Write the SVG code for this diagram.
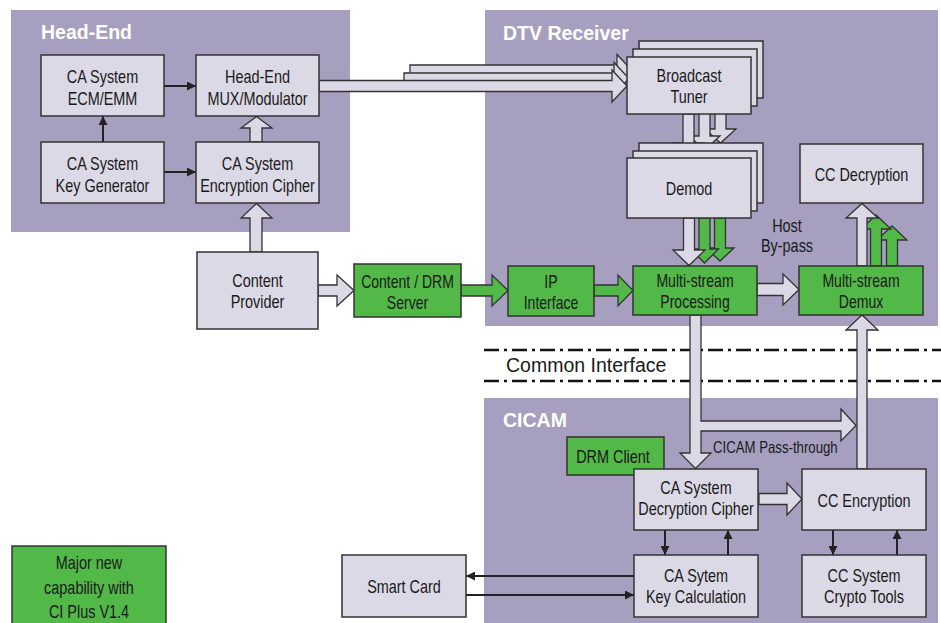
<svg xmlns="http://www.w3.org/2000/svg" width="941" height="623" viewBox="0 0 941 623">
<defs>
<style>
.panel{fill:#A69FBF}
.node{fill:#DCD9E7;stroke:#333;stroke-width:1.5}
.green{fill:#52B848;stroke:#333;stroke-width:1.5}
.blk{fill:#DCD9E7;stroke:#333;stroke-width:1.3}
.gblk{fill:#52B848;stroke:#333;stroke-width:1.3}
.thin{stroke:#222;stroke-width:2;fill:none;marker-end:url(#ah)}
.t{font-family:"Liberation Sans",Arial,sans-serif;font-size:18.5px;fill:#1a1a1a;text-anchor:middle}
.s{font-size:18px}
.title{font-family:"Liberation Sans",Arial,sans-serif;font-weight:bold;font-size:19.5px;fill:#fff}
.ci{font-family:"Liberation Sans",Arial,sans-serif;font-size:19.5px;fill:#1a1a1a}
.dd{stroke:#111;stroke-width:2.5;stroke-dasharray:15 5 3 5;fill:none}
</style>
<marker id="ah" viewBox="0 0 10 10" refX="10" refY="5" markerWidth="9" markerHeight="9" markerUnits="userSpaceOnUse" orient="auto">
<path d="M0,0 L10,5 L0,10 z" fill="#222"/>
</marker>
</defs>
<rect width="941" height="623" fill="#fff"/>
<rect class="panel" x="11" y="10" width="339" height="222"/>
<rect class="panel" x="485" y="10" width="453" height="316"/>
<rect class="panel" x="484" y="398" width="454" height="225"/>
<text class="title" x="41" y="39">Head-End</text>
<text class="title" x="503" y="40">DTV Receiver</text>
<text class="title" x="503" y="427">CICAM</text>
<path class="dd" d="M484,350 H941"/>
<path class="dd" d="M484,381 H941"/>
<text class="ci" x="506" y="372">Common Interface</text>

<g id="connectors">
<polygon class="blk" points="410,65 617,65 617,54.5 632,70.5 617,86.5 617,76 410,76"/>
<polygon class="blk" points="404,73 614,73 614,62.5 629,78.5 614,94.5 614,84 404,84"/>
<polygon class="blk" points="319,80.5 612,80.5 612,70 627,86 612,102 612,91.5 319,91.5"/>
<polygon class="blk" points="250,142 250,128 241,128 256.5,116.5 272,128 262,128 262,142"/>
<polygon class="blk" points="250,252 250,218 241,218 256.5,203.5 272,218 262,218 262,252"/>
<polygon class="blk" points="318,285 337,285 337,275 354,290.5 337,306 337,296 318,296"/>
<polygon class="gblk" points="461,285 492,285 492,275 508,290.5 492,306 492,296 461,296"/>
<polygon class="gblk" points="594,285 618,285 618,275 633,290.5 618,306 618,296 594,296"/>
<polygon class="blk" points="757,283.5 783,283.5 783,274 799,289.5 783,305 783,295.5 757,295.5"/>
<polygon class="blk" points="715,98 726,98 726,129 736,129 720.5,143 705,129 715,129"/>
<polygon class="blk" points="699,106 710,106 710,136 720,136 704.5,150 689,136 699,136"/>
<polygon class="blk" points="683,114 694,114 694,143 704,143 688.5,157.5 673,143 683,143"/>
<polygon class="gblk" points="714.5,218 725.5,218 725.5,248 734,248 720,261 706,248 714.5,248"/>
<polygon class="gblk" points="699,218 710,218 710,249 718.5,249 704.5,263 690.5,249 699,249"/>
<polygon class="blk" points="683.5,218 694.5,218 694.5,250 705,250 689,265.5 673,250 683.5,250"/>
<polygon class="gblk" points="886.5,266 886.5,240 877,240 892,226 907,240 897.5,240 897.5,266"/>
<polygon class="gblk" points="870.5,266 870.5,229 861,229 876,215 891,229 881.5,229 881.5,266"/>
<polygon class="blk" points="857,266 857,218 846,218 862,203.5 878,218 867,218 867,266"/>
<polygon class="blk" points="690,315 701,315 701,421 841,421 841,409 856,425.5 841,441 841,431 701,431 701,453 711,453 695.5,468.5 680,453 690,453"/>
<polygon class="blk" points="857,469 857,330 846,330 862,315 878,330 867,330 867,469"/>
<polygon class="blk" points="759,493.5 787,493.5 787,483 802,499 787,515 787,504.5 759,504.5"/>
<path class="thin" d="M164,86 H196"/>
<path class="thin" d="M164,172 H196"/>
<path class="thin" d="M103,142 V116"/>
<path class="thin" d="M665,530 V555"/>
<path class="thin" d="M728,555 V530"/>
<path class="thin" d="M833,530 V555"/>
<path class="thin" d="M897,555 V530"/>
<path class="thin" d="M634,576 H466"/>
<path class="thin" d="M466,595 H634"/>
<text class="t" transform="translate(787 232) scale(0.78 1)">Host</text>
<text class="t" transform="translate(787 252) scale(0.78 1)">By-pass</text>
<text class="t" transform="translate(713 453) scale(0.8 1)" style="text-anchor:start;font-size:16.5px">CICAM Pass-through</text>
</g>

<g id="ca-ecm"><rect class="node" x="41" y="55" width="123" height="61"/><text class="t" transform="translate(102.5 82.5) scale(0.78 1)">CA System</text><text class="t" transform="translate(102.5 104.5) scale(0.78 1)">ECM/EMM</text></g>
<g id="headend-mux"><rect class="node" x="196" y="55" width="123" height="61"/><text class="t" transform="translate(257.5 82.5) scale(0.78 1)">Head-End</text><text class="t" transform="translate(257.5 104.5) scale(0.78 1)">MUX/Modulator</text></g>
<g id="ca-keygen"><rect class="node" x="41" y="142" width="123" height="61"/><text class="t" transform="translate(102.5 169.5) scale(0.78 1)">CA System</text><text class="t" transform="translate(102.5 191.5) scale(0.78 1)">Key Generator</text></g>
<g id="ca-enc"><rect class="node" x="196" y="142" width="123" height="61"/><text class="t" transform="translate(257.5 169.5) scale(0.78 1)">CA System</text><text class="t" transform="translate(257.5 191.5) scale(0.78 1)">Encryption Cipher</text></g>
<g id="content-provider"><rect class="node" x="197" y="252" width="121" height="77"/><text class="t" transform="translate(257.5 287) scale(0.78 1)">Content</text><text class="t" transform="translate(257.5 308) scale(0.78 1)">Provider</text></g>
<g id="drm-server"><rect class="green" x="354" y="264" width="107" height="53"/><text class="t s" transform="translate(407.5 288) scale(0.78 1)">Content / DRM</text><text class="t s" transform="translate(407.5 309) scale(0.78 1)">Server</text></g>
<g id="ip-interface"><rect class="green" x="508" y="266" width="86" height="50"/><text class="t s" transform="translate(551 288) scale(0.78 1)">IP</text><text class="t s" transform="translate(551 309) scale(0.78 1)">Interface</text></g>
<g id="tuner"><rect class="node" x="639" y="41" width="124" height="57"/><rect class="node" x="633" y="49" width="124" height="57"/><rect class="node" x="627" y="57" width="124" height="57"/><text class="t" transform="translate(689 82) scale(0.78 1)">Broadcast</text><text class="t" transform="translate(689 103) scale(0.78 1)">Tuner</text></g>
<g id="demod"><rect class="node" x="639" y="143" width="124" height="60"/><rect class="node" x="633" y="151" width="124" height="60"/><rect class="node" x="627" y="158" width="124" height="60"/><text class="t" transform="translate(689 195) scale(0.78 1)">Demod</text></g>
<g id="ms-processing"><rect class="green" x="633" y="266" width="124" height="49"/><text class="t s" transform="translate(695 287) scale(0.78 1)">Multi-stream</text><text class="t s" transform="translate(695 308) scale(0.78 1)">Processing</text></g>
<g id="ms-demux"><rect class="green" x="799" y="266" width="124" height="49"/><text class="t s" transform="translate(861 287) scale(0.78 1)">Multi-stream</text><text class="t s" transform="translate(861 308) scale(0.78 1)">Demux</text></g>
<g id="cc-decryption"><rect class="node" x="800" y="144" width="123" height="59"/><text class="t" transform="translate(861.5 181) scale(0.78 1)">CC Decryption</text></g>
<g id="drm-client"><rect class="green" x="567" y="437" width="97" height="38"/><text class="t" transform="translate(613 463) scale(0.78 1)">DRM Client</text></g>
<g id="ca-dec"><rect class="node" x="634" y="469" width="124" height="61"/><text class="t" transform="translate(696 494) scale(0.78 1)">CA System</text><text class="t" transform="translate(696 515) scale(0.78 1)">Decryption Cipher</text></g>
<g id="cc-enc"><rect class="node" x="802" y="469" width="124" height="61"/><text class="t" transform="translate(864 507) scale(0.78 1)">CC Encryption</text></g>
<g id="ca-keycalc"><rect class="node" x="634" y="555" width="124" height="62"/><text class="t" transform="translate(696 582) scale(0.78 1)">CA Sytem</text><text class="t" transform="translate(696 603) scale(0.78 1)">Key Calculation</text></g>
<g id="cc-crypto"><rect class="node" x="802" y="555" width="124" height="62"/><text class="t" transform="translate(864 582) scale(0.78 1)">CC System</text><text class="t" transform="translate(864 603) scale(0.78 1)">Crypto Tools</text></g>
<g id="smart-card"><rect class="node" x="342" y="555" width="124" height="62"/><text class="t" transform="translate(404 593) scale(0.78 1)">Smart Card</text></g>
<g id="legend"><rect class="green" x="12" y="546" width="154" height="85"/><text class="t" transform="translate(89 569) scale(0.78 1)">Major new</text><text class="t" transform="translate(89 594) scale(0.78 1)">capability with</text><text class="t" transform="translate(89 618) scale(0.78 1)">CI Plus V1.4</text></g>
</svg>
